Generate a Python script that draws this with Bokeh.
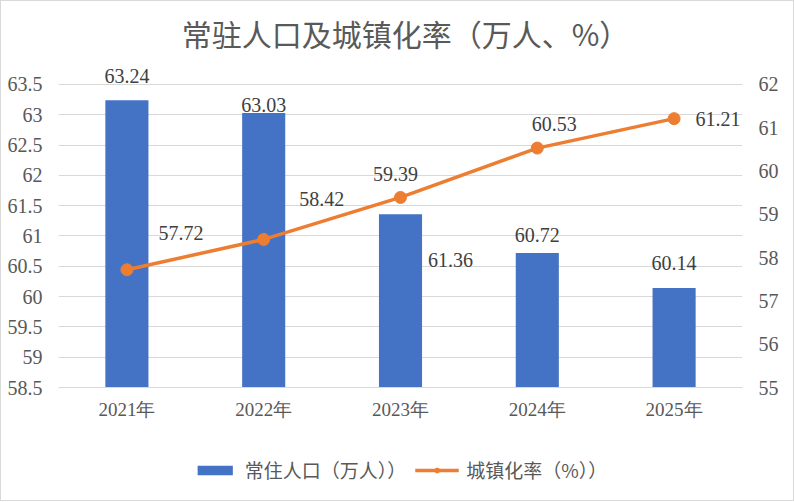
from bokeh.plotting import figure
from bokeh.layouts import column
from bokeh.models import (FactorRange, Range1d, LinearAxis, FixedTicker,
                          CustomJSTickFormatter, Legend, LegendItem)
from bokeh.embed import file_html
from bokeh.resources import INLINE

titulo = "常驻人口及城镇化率（万人、%）"
anios = ["2021年", "2022年", "2023年", "2024年", "2025年"]
poblacion = [63.24, 63.03, 61.36, 60.72, 60.14]
urbanizacion = [57.72, 58.42, 59.39, 60.53, 61.21]
ticks_izq = [58.5, 59, 59.5, 60, 60.5, 61, 61.5, 62, 62.5, 63, 63.5]
ticks_der = [55, 56, 57, 58, 59, 60, 61, 62]

AZUL = "#4472C4"
NARANJA = "#ED7D31"
GRIS = "#595959"
NUM = "Liberation Serif"
CJK = "Noto Sans CJK SC"

# espacio extra arriba (en unidades del eje izquierdo) para titulo y etiquetas
extra = 1.22


def graficar():
    p = figure(width=792, height=447, output_backend="svg", toolbar_location=None,
               x_range=FactorRange(factors=anios),
               y_range=Range1d(ticks_izq[0], ticks_izq[-1] + extra),
               min_border_left=57, min_border_right=51,
               min_border_top=9, min_border_bottom=61)
    p.extra_y_ranges = {"der": Range1d(ticks_der[0], ticks_der[-1] + extra * 1.4)}
    p.outline_line_color = None

    p.vbar(x=anios, top=poblacion, bottom=ticks_izq[0], width=0.315,
           fill_color=AZUL, line_color=None)
    p.line(anios, urbanizacion, y_range_name="der", line_color=NARANJA,
           line_width=3.5)
    p.scatter(anios, urbanizacion, y_range_name="der", size=12,
              fill_color=NARANJA, line_color=NARANJA)

    # titulo dentro del area, arriba al centro
    p.text([anios[2]], [p.y_range.end], text=[titulo], x_offset=5, y_offset=22,
           text_align="center", text_baseline="middle", text_font_size="30px",
           text_font={"value": CJK}, text_color=GRIS)

    # etiquetas de datos (desplazamientos en pixeles como en el original)
    p.text(anios, poblacion, text=[f"{v:.2f}" for v in poblacion],
           x_offset=[0, 0, 50, 0, 0], y_offset=[-24, -8, 46, -18, -25],
           text_align="center", text_baseline="middle", text_font_size="20px",
           text_font={"value": NUM}, text_color="#404040")
    p.text(anios, urbanizacion, text=[f"{v:.2f}" for v in urbanizacion],
           y_range_name="der",
           x_offset=[54, 58, -5, 17, 44], y_offset=[-37, -40, -23, -24, 0],
           text_align="center", text_baseline="middle", text_font_size="20px",
           text_font={"value": NUM}, text_color="#404040")

    fmt = CustomJSTickFormatter(code="return tick.toString()")

    eje_izq = p.yaxis[0]
    eje_izq.ticker = FixedTicker(ticks=ticks_izq)
    p.ygrid[0].ticker = eje_izq.ticker
    eje_izq.formatter = fmt
    p.ygrid.grid_line_color = "#D9D9D9"
    p.xgrid.grid_line_color = None

    eje_der = LinearAxis(y_range_name="der", ticker=FixedTicker(ticks=ticks_der),
                         formatter=fmt)
    p.add_layout(eje_der, "right")

    for eje in [eje_izq, eje_der]:
        eje.axis_line_color = None
        eje.major_tick_line_color = None
        eje.minor_tick_line_color = None
        eje.major_label_text_font = NUM
        eje.major_label_text_font_size = "20px"
        eje.major_label_text_color = GRIS
        eje.major_label_standoff = 10

    p.xaxis.axis_line_color = "#D9D9D9"
    p.xaxis.major_tick_line_color = None
    p.xaxis.major_label_text_font = NUM
    p.xaxis.major_label_text_font_size = "19px"
    p.xaxis.major_label_text_color = GRIS
    p.xaxis.major_label_standoff = 5
    return p


def leyenda():
    # figura aparte solo para la leyenda; los glifos quedan fuera del rango
    q = figure(width=792, height=52, output_backend="svg", toolbar_location=None,
               x_range=Range1d(0, 1), y_range=Range1d(0, 1),
               x_axis_type=None, y_axis_type=None, min_border=0)
    q.outline_line_color = None
    q.grid.visible = False
    barras = q.vbar(x=[-5], top=[-5], bottom=-6, width=0.3, fill_color=AZUL,
                    line_color=None)
    linea = q.line(x=[-5, -4], y=[-5, -5], line_color=NARANJA, line_width=3.5)
    puntos = q.scatter(x=[-5], y=[-5], size=12, fill_color=NARANJA,
                       line_color=NARANJA)

    ley = Legend(items=[LegendItem(label="常住人口（万人））", renderers=[barras]),
                        LegendItem(label="城镇化率（%））", renderers=[linea, puntos])],
                 orientation="horizontal", location="top_center",
                 border_line_color=None, background_fill_alpha=0,
                 label_text_font=CJK, label_text_font_size="19px",
                 label_text_color=GRIS, glyph_width=44, glyph_height=12,
                 spacing=8, label_standoff=8, padding=4, margin=8)
    q.add_layout(ley, "center")
    return q


if __name__ == '__main__':
    p = graficar()
    q = leyenda()
    pagina = column(p, q, spacing=0, styles={"border": "1px solid #D9D9D9"})
    open("out.html", "w").write(file_html(pagina, INLINE))
